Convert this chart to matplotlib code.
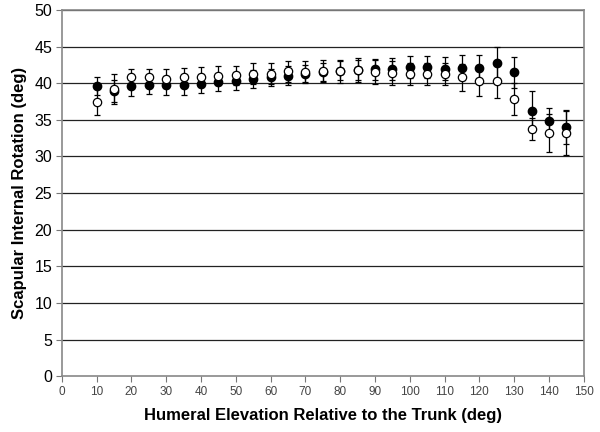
import matplotlib
matplotlib.use('Agg')
import matplotlib.pyplot as plt
import numpy as np

plt.rcParams['font.family'] = ['Liberation Sans', 'DejaVu Sans']

# humeral elevation (deg)
elevation = [10, 15, 20, 25, 30, 35, 40, 45, 50, 55, 60, 65, 70, 75, 80, 85,
             90, 95, 100, 105, 110, 115, 120, 125, 130, 135, 140, 145]

# filled circles
filled_mean = [39.6, 38.9, 39.6, 39.8, 39.7, 39.7, 39.9, 40.1, 40.3, 40.6,
               40.8, 41.0, 41.3, 41.5, 41.7, 41.8, 41.9, 42.0, 42.2, 42.2,
               42.0, 42.1, 42.1, 42.8, 41.5, 36.2, 34.8, 34.0]
filled_err = [1.2, 1.5, 1.4, 1.3, 1.3, 1.3, 1.3, 1.2, 1.2, 1.2,
              1.2, 1.3, 1.2, 1.2, 1.3, 1.3, 1.4, 1.5, 1.5, 1.5,
              1.6, 1.7, 1.8, 2.1, 2.1, 2.8, 1.8, 2.3]

# open circles
open_mean = [37.5, 39.2, 40.8, 40.8, 40.6, 40.8, 40.9, 41.0, 41.1, 41.3,
             41.3, 41.6, 41.5, 41.6, 41.6, 41.8, 41.5, 41.4, 41.3, 41.2,
             41.2, 40.8, 40.3, 40.3, 37.8, 33.8, 33.2, 33.2]
open_err = [1.8, 2.0, 1.2, 1.2, 1.3, 1.3, 1.3, 1.3, 1.3, 1.4,
            1.4, 1.4, 1.5, 1.5, 1.6, 1.6, 1.6, 1.6, 1.5, 1.5,
            1.5, 1.8, 2.0, 2.3, 2.2, 1.5, 2.6, 3.0]

x_ticks = np.arange(0, 151, 10)
y_ticks = np.arange(0, 51, 5)

fig = plt.figure(figsize=(6, 4.32), dpi=100)
ax = fig.add_axes([0.103, 0.129, 0.870, 0.848])

for y in y_ticks[1:]:
    ax.axhline(y, color='#222222', lw=0.9, zorder=1)

ax.errorbar(elevation, filled_mean, yerr=filled_err, fmt='o', color='black',
            mfc='black', mec='black', ms=6, ecolor='black', elinewidth=0.9,
            capsize=2.5, capthick=0.9, zorder=3)
ax.errorbar(elevation, open_mean, yerr=open_err, fmt='o', color='black',
            mfc='white', mec='black', mew=0.9, ms=6, ecolor='black',
            elinewidth=0.9, capsize=2.5, capthick=0.9, zorder=4)

ax.set_xlim(0, 150)
ax.set_ylim(0, 50)
ax.set_xticks(x_ticks)
ax.set_yticks(y_ticks)
ax.tick_params(axis='x', labelsize=8.5, direction='out', length=4, color='#777777',
               labelcolor='#444444', pad=3)
ax.tick_params(axis='y', labelsize=11.5, direction='out', length=4, color='#777777',
               pad=3)

for side in ['left', 'bottom', 'right', 'top']:
    ax.spines[side].set_color('#888888')
    ax.spines[side].set_linewidth(1.2)

ax.set_xlabel('Humeral Elevation Relative to the Trunk (deg)', fontsize=12,
              fontweight='bold', labelpad=7)
ax.set_ylabel('Scapular Internal Rotation (deg)', fontsize=12,
              fontweight='bold', labelpad=5)

fig.savefig('out.png', dpi=100)
